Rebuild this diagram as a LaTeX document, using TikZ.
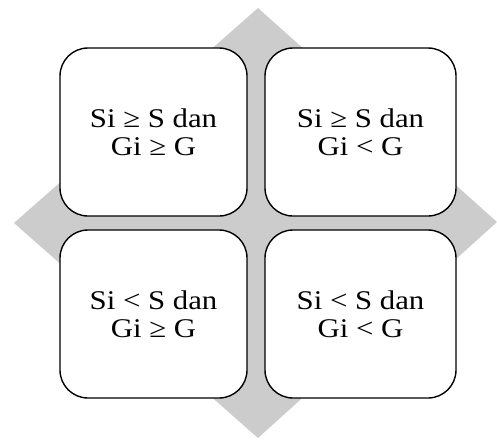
\documentclass[tikz,border=0pt]{standalone}
\usepackage{fontspec}
\newfontfamily\boxfont[FakeStretch=1.14]{Liberation Serif}
\definecolor{diamondgray}{RGB}{204,204,204}
\tikzset{
  quad/.style={draw=black, line width=1.4pt, fill=white, rounded corners=28pt,
    minimum height=168pt, align=center, inner sep=0pt,
    font=\boxfont\fontsize{27}{28}\selectfont},
  backdrop/.style={fill=diamondgray, draw=none}
}
\begin{document}
\begin{tikzpicture}[x=1pt, y=-1pt]
  \useasboundingbox (0,0) rectangle (497,439);
  % grey diamond behind the quadrants
  \fill[backdrop] (258,8) -- (497,222) -- (258,438) -- (14,223) -- cycle;
  % four quadrants
  \node[quad, minimum width=187pt] (q1) at (153.5,132) {Si ≥ S dan\\Gi ≥ G};
  \node[quad, minimum width=191pt] (q2) at (360.5,132) {Si ≥ S dan\\Gi < G};
  \node[quad, minimum width=187pt] (q3) at (153.5,314) {Si < S dan\\Gi ≥ G};
  \node[quad, minimum width=191pt] (q4) at (360.5,314) {Si < S dan\\Gi < G};
\end{tikzpicture}
\end{document}
